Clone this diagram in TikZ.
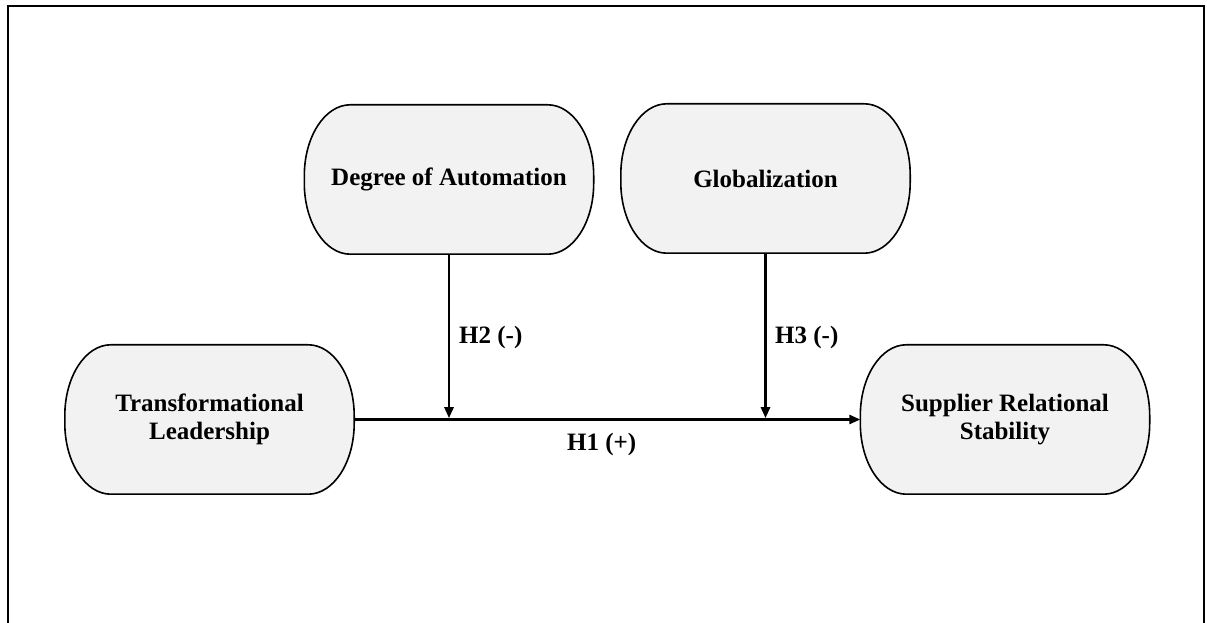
\documentclass[tikz,border=0pt]{standalone}
\usepackage{fontspec}
\setmainfont{Liberation Serif}
\usetikzlibrary{arrows.meta,calc,backgrounds}
\definecolor{boxfill}{HTML}{F2F2F2}
\tikzset{
  var/.style={rectangle, minimum width=289pt, minimum height=149pt, inner sep=0pt, align=center,
    font=\fontsize{25}{28.5}\selectfont\bfseries},
  capsule/.style={draw=black, line width=1.6pt, fill=boxfill},
  link/.style={line width=2.6pt, -{Triangle[length=11pt,width=9pt]}},
  hyp/.style={font=\fontsize{25}{28.5}\selectfont\bfseries, inner sep=0pt},
  frameline/.style={line width=1.8pt}
}
\begin{document}
\begin{tikzpicture}[x=1pt,y=1pt]
\useasboundingbox (0,0) rectangle (1207,623);
\draw[frameline] (8,-5) -- (8,617) -- (1204,617) -- (1204,-5);
\node[var] (doa) at (449,443.5) {Degree of Automation};
\node[var] (glob) at (765.5,444.5) {Globalization};
\node[var] (tl) at (209.5,203.5) {Transformational\\Leadership};
\node[var] (srs) at (1005,203.5) {Supplier Relational\\Stability};
\begin{scope}[on background layer]
\foreach \n in {doa,glob,tl,srs}{
  \draw[capsule] ($(\n.north west)+(46,0)$) -- ($(\n.north east)+(-46,0)$)
    arc[start angle=90,end angle=0,x radius=46,y radius=71]
    -- ($(\n.south east)+(0,71)$)
    arc[start angle=0,end angle=-90,x radius=46,y radius=71]
    -- ($(\n.south west)+(46,0)$)
    arc[start angle=270,end angle=180,x radius=46,y radius=71]
    -- ($(\n.north west)+(0,-71)$)
    arc[start angle=180,end angle=90,x radius=46,y radius=71] -- cycle;
}
\end{scope}
\draw[link] (tl.east) -- (srs.west);
\draw[link, shorten >=1.3pt] (doa.south) -- (doa.south |- tl.east);
\draw[link, shorten >=1.3pt] (glob.south) -- (glob.south |- tl.east);
\node[hyp, anchor=west] (h2) at (459,286) {H2 (-)};
\node[hyp, anchor=west] (h3) at (775,286) {H3 (-)};
\node[hyp, anchor=west] (h1) at (567,179) {H1 (+)};
\end{tikzpicture}
\end{document}
